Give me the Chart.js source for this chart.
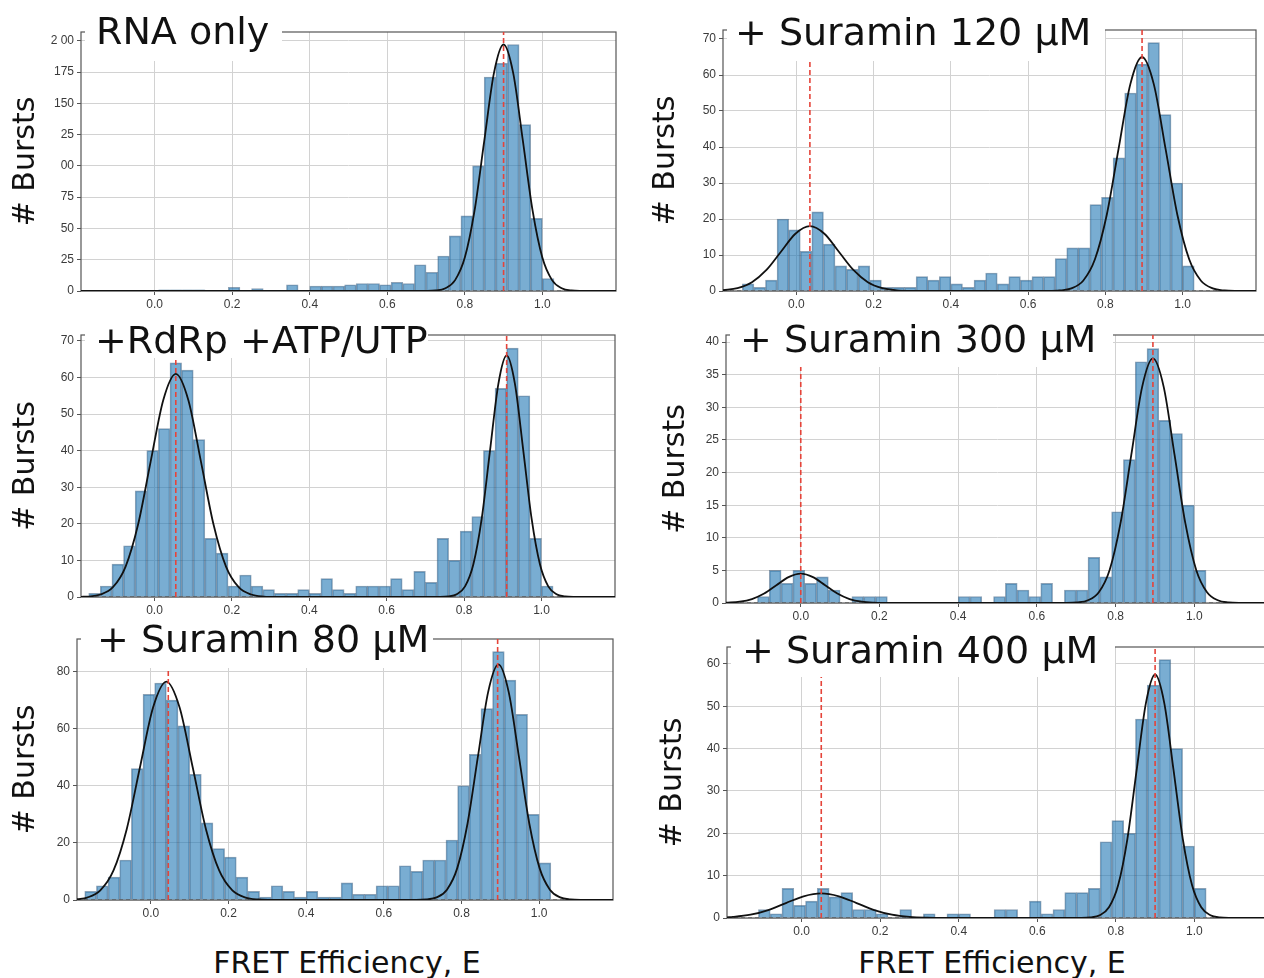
<!DOCTYPE html>
<html>
<head>
<meta charset="utf-8">
<script src="https://cdn.jsdelivr.net/npm/chart.js@4.4.1/dist/chart.umd.min.js"></script>
<style>
  body { margin: 0; width: 1264px; height: 978px; overflow: hidden; background: #fff; position: relative; font-family: "DejaVu Sans", sans-serif; }
  canvas { position: absolute; }
  .mask { position: absolute; background: #fff; }
  .title { position: absolute; font-size: 38px; line-height: 38px; color: #111; white-space: nowrap; }
  .xlabel { position: absolute; font-size: 30px; line-height: 30px; color: #111; white-space: nowrap; transform: translateX(-50%); }
</style>
</head>
<body>
<script>
// Bin centres (FRET E), bin width 0.03
const binCenters = [-0.155, -0.125, -0.095, -0.065, -0.035, -0.005, 0.025, 0.055, 0.085, 0.115,
  0.145, 0.175, 0.205, 0.235, 0.265, 0.295, 0.325, 0.355, 0.385, 0.415,
  0.445, 0.475, 0.505, 0.535, 0.565, 0.595, 0.625, 0.655, 0.685, 0.715,
  0.745, 0.775, 0.805, 0.835, 0.865, 0.895, 0.925, 0.955, 0.985, 1.015];

const xTickVals = [0, 0.2, 0.4, 0.6, 0.8, 1.0];
const xTickLabels = ["0.0", "0.2", "0.4", "0.6", "0.8", "1.0"];

// RNA only
const counts1 = [0, 0, 0, 0, 0, 0, 1, 1, 1, 1, 0, 0, 3, 0, 2, 0, 0, 5, 0, 4,
  4, 4, 5, 6, 6, 5, 7, 6, 21, 15, 28, 44, 60, 100, 171, 182, 197, 133, 58, 10];
const fitX1 = [-0.19, 0.6, 0.7, 0.725, 0.75, 0.775, 0.8, 0.825, 0.85, 0.875, 0.9,
  0.925, 0.95, 0.975, 1.0, 1.025, 1.05, 1.075, 1.1, 1.19];
const fitY1 = [0, 0, 0.1, 0.4, 2.2, 8.7, 26.7, 64.0, 119.5, 173.9, 197,
  173.9, 119.5, 64.0, 26.7, 8.7, 2.2, 0.4, 0.1, 0];
const peaks1 = [0.9];
const yTicks1 = [0, 25, 50, 75, 100, 125, 150, 175, 200];
const yLabels1 = ["0", "25", "50", "75", "00", "25", "150", "175", "2 00"];

// +RdRp +ATP/UTP
const counts2 = [1, 3, 9, 14, 29, 40, 46, 64, 62, 43, 16, 12, 3, 6, 3, 2, 1, 1, 2, 1,
  5, 2, 1, 3, 3, 3, 5, 2, 7, 4, 16, 10, 18, 22, 40, 57, 68, 55, 16, 3];
const fitX2 = [-0.19, -0.1725, -0.14, -0.1075, -0.075, -0.0425, -0.01, 0.0225, 0.055, 0.0875,
  0.12, 0.1525, 0.185, 0.2175, 0.25, 0.2825, 0.315, 0.5,
  0.738, 0.7595, 0.781, 0.8025, 0.824, 0.8455, 0.867, 0.8885, 0.91, 0.9315,
  0.953, 0.9745, 0.996, 1.0175, 1.039, 1.0605, 1.082, 1.19];
const fitY2 = [0.05, 0.13, 0.68, 2.68, 8.25, 19.8, 37.0, 53.8, 61, 53.8,
  37.0, 19.8, 8.25, 2.68, 0.68, 0.13, 0.02, 0,
  0.02, 0.15, 0.73, 2.9, 8.93, 21.4, 40.0, 58.2, 66, 58.2,
  40.0, 21.4, 8.93, 2.9, 0.73, 0.15, 0.02, 0];
const peaks2 = [0.055, 0.91];
const yTicks2 = [0, 10, 20, 30, 40, 50, 60, 70];
const yLabels2 = ["0", "10", "20", "30", "40", "50", "60", "70"];

// + Suramin 80 µM
const counts3 = [3, 5, 8, 14, 46, 72, 76, 70, 61, 44, 27, 18, 15, 8, 3, 1, 5, 3, 1, 3,
  1, 1, 6, 2, 2, 5, 5, 12, 10, 14, 14, 21, 40, 51, 67, 87, 77, 65, 30, 13];
const fitX3 = [-0.19, -0.164, -0.13, -0.096, -0.062, -0.028, 0.006, 0.04, 0.074, 0.108,
  0.142, 0.176, 0.21, 0.244, 0.278, 0.312, 0.5,
  0.683, 0.7095, 0.736, 0.7625, 0.789, 0.8155, 0.842, 0.8685, 0.895, 0.9215,
  0.948, 0.9745, 1.001, 1.0275, 1.054, 1.0805, 1.107, 1.19];
const fitY3 = [0.25, 0.85, 3.36, 10.35, 24.8, 46.4, 67.5, 76.5, 67.5, 46.4,
  24.8, 10.35, 3.36, 0.85, 0.17, 0.02, 0,
  0.02, 0.18, 0.92, 3.62, 11.16, 26.8, 50.0, 72.8, 82.5, 72.8,
  50.0, 26.8, 11.16, 3.62, 0.92, 0.18, 0.02, 0];
const peaks3 = [0.045, 0.893];
const yTicks3 = [0, 20, 40, 60, 80];
const yLabels3 = ["0", "20", "40", "60", "80"];

// + Suramin 120 µM
const counts4 = [0, 2, 1, 3, 20, 17, 11, 22, 13, 7, 6, 7, 3, 1, 1, 1, 4, 3, 4, 2,
  1, 3, 5, 2, 4, 3, 4, 4, 9, 12, 12, 24, 26, 37, 55, 63, 69, 49, 30, 7];
const fitX4 = [-0.19, -0.1525, -0.115, -0.0775, -0.04, -0.0025, 0.035, 0.0725, 0.11, 0.1475,
  0.185, 0.2225, 0.26, 0.2975, 0.335, 0.5,
  0.651, 0.6815, 0.712, 0.7425, 0.773, 0.8035, 0.834, 0.8645, 0.895, 0.9255,
  0.956, 0.9865, 1.017, 1.0475, 1.078, 1.1085, 1.139, 1.19];
const fitY4 = [0.2, 0.79, 2.44, 5.84, 10.9, 15.9, 18, 15.9, 10.9, 5.84,
  2.44, 0.79, 0.2, 0.04, 0.005, 0,
  0.02, 0.14, 0.72, 2.85, 8.8, 21.1, 39.4, 57.4, 65, 57.4,
  39.4, 21.1, 8.8, 2.85, 0.72, 0.14, 0.02, 0];
const peaks4 = [0.035, 0.895];
const yTicks4 = [0, 10, 20, 30, 40, 50, 60, 70];
const yLabels4 = ["0", "10", "20", "30", "40", "50", "60", "70"];

// + Suramin 300 µM
const counts5 = [0, 0, 1, 5, 3, 5, 3, 4, 2, 0, 1, 1, 1, 0, 0, 0, 0, 0, 0, 1,
  1, 0, 1, 3, 2, 1, 3, 0, 2, 2, 7, 4, 14, 22, 37, 39, 28, 26, 15, 5];
const fitX5 = [-0.19, -0.155, -0.124, -0.093, -0.062, -0.031, 0, 0.031, 0.062, 0.093,
  0.124, 0.155, 0.186, 0.217, 0.248, 0.5,
  0.675, 0.7025, 0.73, 0.7575, 0.785, 0.8125, 0.84, 0.8675, 0.895, 0.9225,
  0.95, 0.9775, 1.005, 1.0325, 1.06, 1.0875, 1.115, 1.19];
const fitY5 = [0.04, 0.2, 0.61, 1.46, 2.73, 3.97, 4.5, 3.97, 2.73, 1.46,
  0.61, 0.2, 0.05, 0.01, 0, 0,
  0.01, 0.08, 0.42, 1.65, 5.07, 12.2, 22.7, 33.1, 37.5, 33.1,
  22.7, 12.2, 5.07, 1.65, 0.42, 0.08, 0.01, 0];
const peaks5 = [0.0, 0.895];
const yTicks5 = [0, 5, 10, 15, 20, 25, 30, 35, 40];
const yLabels5 = ["0", "5", "10", "15", "20", "25", "30", "35", "40"];

// + Suramin 400 µM
const counts6 = [0, 0, 2, 1, 7, 3, 4, 7, 5, 6, 2, 2, 1, 0, 2, 0, 1, 0, 1, 1,
  0, 0, 2, 2, 0, 4, 1, 2, 6, 6, 7, 18, 23, 20, 47, 55, 61, 40, 17, 7];
const fitX6 = [-0.19, -0.175, -0.13, -0.085, -0.04, 0.005, 0.05, 0.095, 0.14, 0.185,
  0.23, 0.275, 0.32, 0.365, 0.55,
  0.712, 0.7355, 0.759, 0.7825, 0.806, 0.8295, 0.853, 0.8765, 0.9, 0.9235,
  0.947, 0.9705, 0.994, 1.0175, 1.041, 1.0645, 1.088, 1.19];
const fitY6 = [0.16, 0.25, 0.78, 1.88, 3.52, 5.12, 5.8, 5.12, 3.52, 1.88,
  0.78, 0.25, 0.06, 0.01, 0,
  0.02, 0.13, 0.64, 2.52, 7.78, 18.7, 34.9, 50.7, 57.5, 50.7,
  34.9, 18.7, 7.78, 2.52, 0.64, 0.13, 0.02, 0];
const peaks6 = [0.05, 0.9];
const yTicks6 = [0, 10, 20, 30, 40, 50, 60];
const yLabels6 = ["0", "10", "20", "30", "40", "50", "60"];

const titles = ["RNA only", "+RdRp +ATP/UTP", "+ Suramin 80 \u00b5M",
  "+ Suramin 120 \u00b5M", "+ Suramin 300 \u00b5M", "+ Suramin 400 \u00b5M"];

// page layout (pixels): plot area, y-title centre, white title box, title position
const X_MIN = -0.19, X_MAX = 1.19;
const PAD_TOP = 16, PAD_RIGHT = 8, X_AXIS_H = 24;
const layout = [
  { L: 81, R: 616, T: 32, B: 291, yMax: 207, yTitleX: 26, boxR: 282, boxT: 24, boxB: 61, tx: 96, base: 44 },
  { L: 81, R: 615, T: 335, B: 597, yMax: 71.6, yTitleX: 26, boxR: 428, boxT: 328, boxB: 358, tx: 95, base: 353 },
  { L: 77, R: 613, T: 639, B: 900, yMax: 91.4, yTitleX: 26, boxR: 433, boxT: 632, boxB: 668, tx: 97, base: 652 },
  { L: 723, R: 1256, T: 30, B: 291, yMax: 72.5, yTitleX: 666, boxR: 1105, boxT: 23, boxB: 61, tx: 735, base: 45 },
  { L: 726, R: 1269, T: 335, B: 603, yMax: 41.1, yTitleX: 676, boxR: 1113, boxT: 328, boxB: 367, tx: 740, base: 352 },
  { L: 727, R: 1269, T: 647, B: 918, yMax: 64, yTitleX: 673, boxR: 1115, boxT: 640, boxB: 677, tx: 742, base: 663 }
];

const panels = [
  { counts: counts1, fitX: fitX1, fitY: fitY1, peaks: peaks1, yTicks: yTicks1, yLabels: yLabels1 },
  { counts: counts2, fitX: fitX2, fitY: fitY2, peaks: peaks2, yTicks: yTicks2, yLabels: yLabels2 },
  { counts: counts3, fitX: fitX3, fitY: fitY3, peaks: peaks3, yTicks: yTicks3, yLabels: yLabels3 },
  { counts: counts4, fitX: fitX4, fitY: fitY4, peaks: peaks4, yTicks: yTicks4, yLabels: yLabels4 },
  { counts: counts5, fitX: fitX5, fitY: fitY5, peaks: peaks5, yTicks: yTicks5, yLabels: yLabels5 },
  { counts: counts6, fitX: fitX6, fitY: fitY6, peaks: peaks6, yTicks: yTicks6, yLabels: yLabels6 }
];

// top + right spines
const framePlugin = {
  id: "frame",
  beforeDatasetsDraw(chart) {
    const a = chart.chartArea, ctx = chart.ctx;
    ctx.save();
    ctx.strokeStyle = "#555";
    ctx.lineWidth = 1.2;
    ctx.strokeRect(a.left, a.top, a.right - a.left, a.bottom - a.top);
    ctx.restore();
  }
};

const tickFont = { family: "'Liberation Sans', Arial, sans-serif", size: 12 };
const gridStyle = { color: "#d2d2d2", lineWidth: 1, offset: false, tickLength: 4, tickColor: "#555" };

function makePanel(p, lay, idx) {
  const canvas = document.createElement("canvas");
  const left = lay.yTitleX - 18;
  const top = lay.T - PAD_TOP;
  canvas.width = lay.R - left + PAD_RIGHT;
  canvas.height = lay.B - top + X_AXIS_H;
  canvas.style.left = left + "px";
  canvas.style.top = top + "px";
  document.body.appendChild(canvas);
  const yW = lay.L - left;

  const datasets = [];
  p.peaks.forEach(c => {
    datasets.push({
      type: "line", data: [{ x: c, y: 0 }, { x: c, y: lay.yMax }],
      borderColor: "#e5443a", borderWidth: 1.6, borderDash: [5, 3],
      pointRadius: 0, order: 0
    });
  });
  datasets.push({
    type: "line", data: p.fitX.map((x, i) => ({ x: x, y: p.fitY[i] })),
    borderColor: "#111", borderWidth: 1.8, cubicInterpolationMode: "monotone",
    pointRadius: 0, order: 1
  });
  datasets.push({
    type: "line", data: [{ x: X_MIN, y: 0 }, { x: X_MAX, y: 0 }],
    borderColor: "#444", borderWidth: 1, borderDash: [4, 3], pointRadius: 0, order: 2
  });
  datasets.push({
    type: "bar", data: binCenters.map((x, i) => ({ x: x, y: p.counts[i] })),
    backgroundColor: "rgba(31,119,180,0.6)", borderColor: "rgba(50,85,120,0.55)",
    borderWidth: 1, barPercentage: 1, categoryPercentage: 1, grouped: false, order: 3
  });

  new Chart(canvas, {
    type: "bar",
    data: { datasets: datasets },
    plugins: [framePlugin],
    options: {
      responsive: false,
      animation: false,
      events: [],
      layout: { padding: { left: 0, right: PAD_RIGHT, top: PAD_TOP, bottom: 0 } },
      plugins: { legend: { display: false }, tooltip: { enabled: false } },
      scales: {
        x: {
          type: "linear", min: X_MIN, max: X_MAX, offset: false,
          grid: gridStyle, border: { display: false },
          ticks: { font: tickFont, color: "#3a3a3a", padding: 2, maxRotation: 0, autoSkip: false,
            callback: (v, i) => xTickLabels[i] },
          afterBuildTicks: s => { s.ticks = xTickVals.map(v => ({ value: v })); },
          afterFit: s => { s.height = X_AXIS_H; }
        },
        y: {
          type: "linear", min: 0, max: lay.yMax,
          grid: gridStyle, border: { display: false },
          ticks: { font: tickFont, color: "#3a3a3a", padding: 3, autoSkip: false,
            callback: (v, i) => p.yLabels[i] },
          afterBuildTicks: s => { s.ticks = p.yTicks.map(v => ({ value: v })); },
          afterFit: s => { s.width = yW; },
          title: { display: true, text: "# Bursts", color: "#111", padding: 0,
            font: { family: "'DejaVu Sans', sans-serif", size: 30, weight: "normal" } }
        }
      }
    }
  });

  // white box carrying the panel label, as in the source figure
  const mask = document.createElement("div");
  mask.className = "mask";
  mask.style.left = (lay.L + 4) + "px";
  mask.style.top = lay.boxT + "px";
  mask.style.width = (lay.boxR - lay.L - 4) + "px";
  mask.style.height = (lay.boxB - lay.boxT) + "px";
  document.body.appendChild(mask);

  const t = document.createElement("div");
  t.className = "title";
  t.textContent = titles[idx];
  t.style.left = lay.tx + "px";
  t.style.top = (lay.base - 32) + "px";
  document.body.appendChild(t);
}

panels.forEach((p, i) => makePanel(p, layout[i], i));

// shared x label under each column
[[347, 973], [992, 973]].forEach(([cx, base]) => {
  const d = document.createElement("div");
  d.className = "xlabel";
  d.textContent = "FRET Efficiency, E";
  d.style.left = cx + "px";
  d.style.top = (base - 25) + "px";
  document.body.appendChild(d);
});
</script>
</body>
</html>
